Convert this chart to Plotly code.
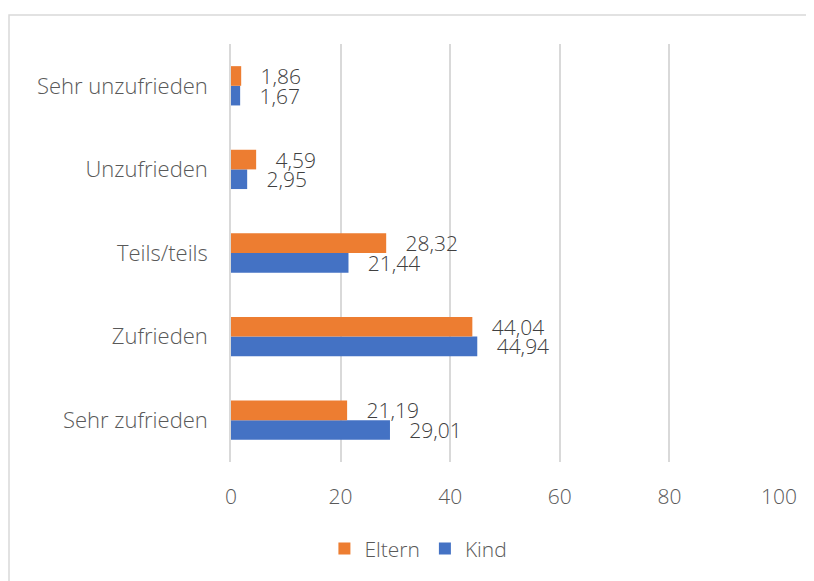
import plotly.graph_objects as go

categories = ["Sehr zufrieden", "Zufrieden", "Teils/teils", "Unzufrieden", "Sehr unzufrieden"]
eltern = [21.19, 44.04, 28.32, 4.59, 1.86]
kind = [29.01, 44.94, 21.44, 2.95, 1.67]
x_ticks = [0, 20, 40, 60, 80, 100]

ORANGE = "#ED7D31"
BLUE = "#4472C4"
FONT = "Open Sans"
GRID = "#d9d9d9"


def de(v):
    return "\u00a0\u00a0\u00a0" + f"{v:.2f}".replace(".", ",")


fig = go.Figure()
fig.add_trace(go.Bar(
    y=categories, x=kind, name="Kind", orientation="h",
    marker=dict(color=BLUE, line=dict(width=0)),
    text=[de(v) for v in kind], textposition="outside", constraintext="none",
    cliponaxis=False,
    textfont=dict(size=21, color="#404040", family=FONT, weight=300),
))
fig.add_trace(go.Bar(
    y=categories, x=eltern, name="Eltern", orientation="h",
    marker=dict(color=ORANGE, line=dict(width=0)),
    text=[de(v) for v in eltern], textposition="outside", constraintext="none",
    cliponaxis=False,
    textfont=dict(size=21, color="#404040", family=FONT, weight=300),
))

fig.update_layout(
    width=814, height=581,
    paper_bgcolor="white", plot_bgcolor="white",
    barmode="group", bargap=0.53, bargroupgap=0,
    margin=dict(l=223, r=43, t=36, b=127),
    font=dict(family=FONT, color="#595959", size=21, weight=300),
    showlegend=True,
    legend=dict(orientation="h", x=0.342, xanchor="center", y=-0.208, yanchor="middle",
                traceorder="reversed", font=dict(size=21, color="#595959", weight=300),
                itemwidth=30),
    xaxis=dict(range=[0, 100], tickvals=x_ticks, showgrid=True,
               gridcolor=GRID, gridwidth=1.5, zeroline=False,
               showline=False, ticklabelstandoff=20,
               tickfont=dict(size=21, color="#595959", weight=300)),
    yaxis=dict(range=[-0.5, 4.5], showgrid=False, zeroline=False,
               showline=True, linecolor=GRID, linewidth=1.5, layer="below traces",
               ticklabelstandoff=17, tickfont=dict(size=22, color="#595959", weight=300)),
    shapes=[dict(type="rect", xref="paper", yref="paper",
                 x0=-0.4051, x1=2, y0=-1, y1=1.0694,
                 line=dict(color=GRID, width=1.5), fillcolor="rgba(0,0,0,0)")],
)

fig.write_html("out.html")
